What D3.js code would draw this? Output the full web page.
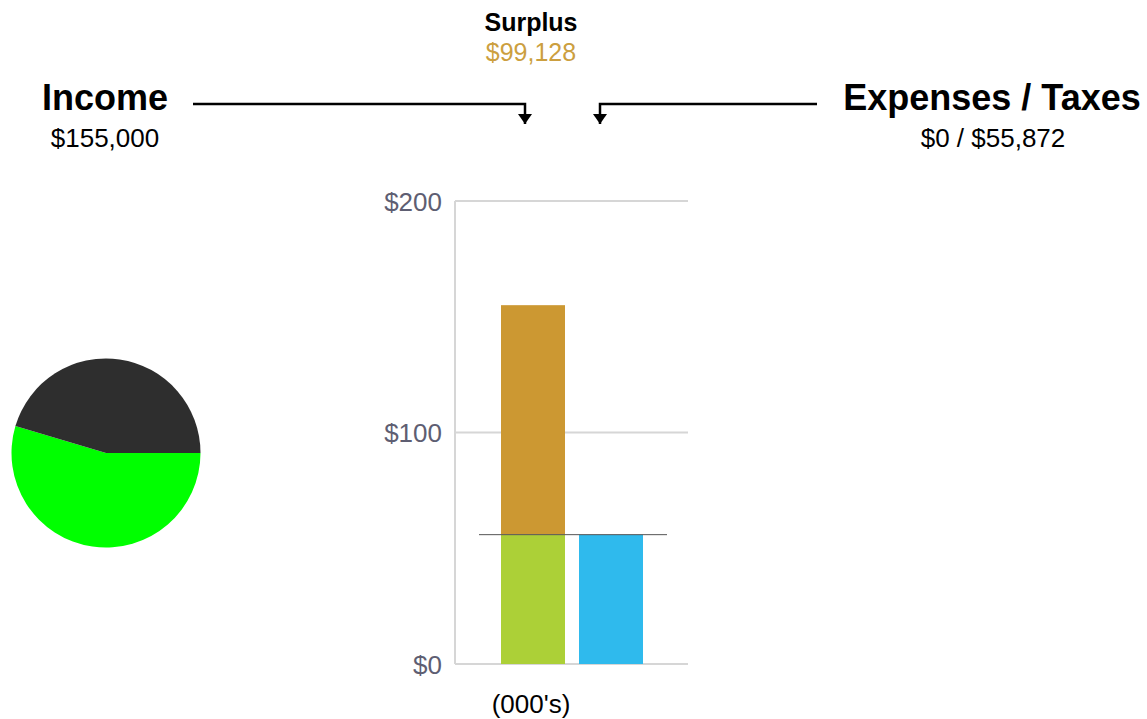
<!DOCTYPE html>
<html>
<head>
<meta charset="utf-8">
<script src="https://cdn.jsdelivr.net/npm/d3@7"></script>
<style>
  html, body { margin: 0; padding: 0; background: #fff; }
  svg { display: block; font-family: "Liberation Sans", Arial, sans-serif; }
</style>
</head>
<body>
<svg id="chart" width="1147" height="719"></svg>
<script>
// Totals (dollars)
const incomeTotal = 155000;
const expensesTotal = 0;
const taxesTotal = 55872;
const surplusTotal = 99128;

// Bar columns and their stacked segments (thousands of dollars)
const categories = ["Income", "Outflow"];
const incomeSegments = [55.872, 99.128];     // taxes-covered part, surplus part
const outflowSegments = [0, 55.872];         // expenses, taxes
const yTicks = [0, 100, 200];
const yTickLabels = ["$0", "$100", "$200"];

// Pie shares
const pieLabels = ["green", "dark"];
const pieValues = [54.6, 45.4];

const fmt = d3.format("$,");
const svg = d3.select("#chart");

// ---- headings ----
svg.append("text").attr("x", 531).attr("y", 31).attr("text-anchor", "middle")
  .attr("font-size", 25).attr("font-weight", "bold").attr("fill", "#000").text("Surplus");
svg.append("text").attr("x", 531).attr("y", 61).attr("text-anchor", "middle")
  .attr("font-size", 25).attr("fill", "#cc9f3f").text(fmt(surplusTotal));

svg.append("text").attr("x", 105).attr("y", 110).attr("text-anchor", "middle")
  .attr("font-size", 36).attr("font-weight", "bold").attr("fill", "#000").text("Income");
svg.append("text").attr("x", 105).attr("y", 147).attr("text-anchor", "middle")
  .attr("font-size", 26).attr("fill", "#000").text(fmt(incomeTotal));

svg.append("text").attr("x", 992).attr("y", 110).attr("text-anchor", "middle")
  .attr("font-size", 36).attr("font-weight", "bold").attr("fill", "#000").text("Expenses / Taxes");
svg.append("text").attr("x", 993).attr("y", 147).attr("text-anchor", "middle")
  .attr("font-size", 26).attr("fill", "#000").text(fmt(expensesTotal) + " / " + fmt(taxesTotal));

// ---- connector arrows ----
const defs = svg.append("defs");
defs.append("marker").attr("id", "arrow").attr("viewBox", "0 0 14 10")
  .attr("preserveAspectRatio", "none")
  .attr("refX", 7).attr("refY", 10).attr("markerWidth", 14).attr("markerHeight", 10)
  .attr("markerUnits", "userSpaceOnUse").attr("orient", "0")
  .append("path").attr("d", "M0,0 L14,0 L7,10 Z").attr("fill", "#000");

svg.append("path").attr("d", "M193,104 H525 V124").attr("fill", "none")
  .attr("stroke", "#000").attr("stroke-width", 2.5).attr("marker-end", "url(#arrow)");
svg.append("path").attr("d", "M817,104 H600 V124").attr("fill", "none")
  .attr("stroke", "#000").attr("stroke-width", 2.5).attr("marker-end", "url(#arrow)");

// ---- bar chart ----
const y = d3.scaleLinear().domain([0, 200]).range([664, 201]);
const x = d3.scaleBand().domain(categories).range([487, 657]).padding(14 / 78);

const gridG = svg.append("g");
gridG.selectAll("line").data(yTicks).join("line")
  .attr("x1", 455).attr("x2", 688)
  .attr("y1", d => y(d)).attr("y2", d => y(d))
  .attr("stroke", "#d6d6d6").attr("stroke-width", 2);
gridG.append("line").attr("x1", 455).attr("x2", 455)
  .attr("y1", y(200)).attr("y2", y(0)).attr("stroke", "#d6d6d6").attr("stroke-width", 2);

const yAxis = d3.axisLeft(y).tickValues(yTicks)
  .tickFormat((d, i) => yTickLabels[i]).tickSize(0).tickPadding(0);
const axG = svg.append("g").attr("transform", "translate(442,0)").call(yAxis);
axG.select(".domain").remove();
axG.selectAll("text").attr("font-size", 26).attr("fill", "#5e5e72")
  .attr("font-family", "Liberation Sans, Arial, sans-serif").attr("dy", "0.35em");

function stackRects(cat, segs, colors) {
  let base = 0;
  segs.forEach((v, i) => {
    svg.append("rect")
      .attr("x", x(cat)).attr("width", x.bandwidth())
      .attr("y", y(base + v)).attr("height", y(base) - y(base + v))
      .attr("fill", colors[i]);
    base += v;
  });
}
stackRects("Income", incomeSegments, ["#acd037", "#cc9832"]);
stackRects("Outflow", outflowSegments, ["#888888", "#2fbaed"]);

// reference line at the outflow level
svg.append("line").attr("x1", 479).attr("x2", 667)
  .attr("y1", y(taxesTotal / 1000)).attr("y2", y(taxesTotal / 1000))
  .attr("stroke", "#555").attr("stroke-width", 1);

svg.append("text").attr("x", 531).attr("y", 713).attr("text-anchor", "middle")
  .attr("font-size", 26).attr("fill", "#000").text("(000's)");

// ---- pie ----
const pie = d3.pie().sort(null).startAngle(Math.PI / 2).endAngle(Math.PI / 2 + 2 * Math.PI);
const arc = d3.arc().innerRadius(0).outerRadius(94.5);
const pieColors = { green: "#00ff00", dark: "#2e2e2e" };
svg.append("g").attr("transform", "translate(106,453)")
  .selectAll("path").data(pie(pieValues)).join("path")
  .attr("d", arc).attr("fill", (d, i) => pieColors[pieLabels[i]]);
</script>
</body>
</html>
